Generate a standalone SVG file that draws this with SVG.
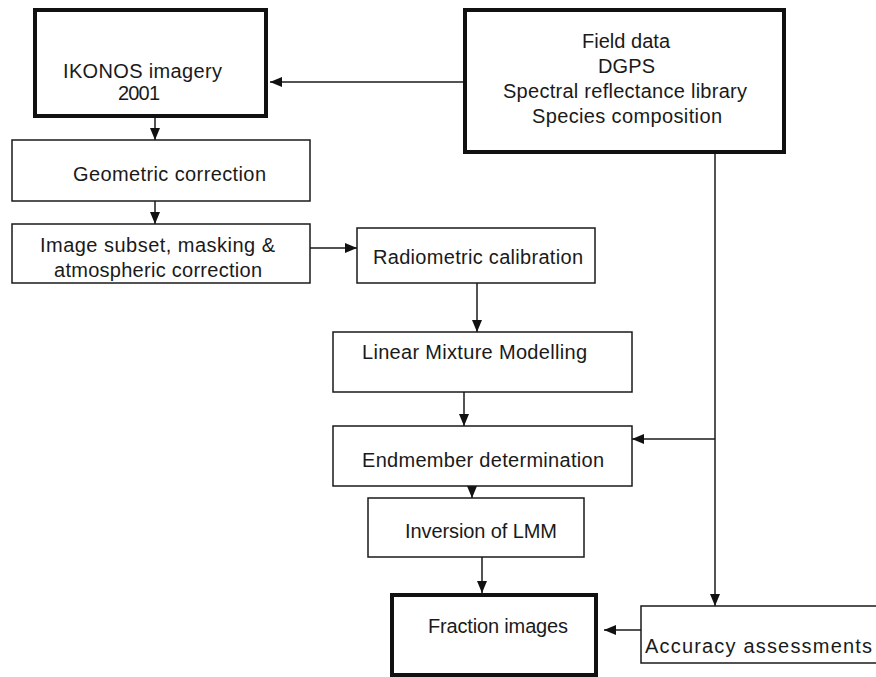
<svg xmlns="http://www.w3.org/2000/svg" width="876" height="677" viewBox="0 0 876 677">
<style>
.box{fill:#fff;stroke:#1a1a1a;stroke-width:1.5}
.thick{fill:#fff;stroke:#111;stroke-width:4}
.t{font-family:"Liberation Sans",Arial,sans-serif;font-size:20px;fill:#1a1a1a}
.ln{fill:none;stroke:#1a1a1a;stroke-width:1.5}
</style>
<defs>
<marker id="ah" markerUnits="userSpaceOnUse" markerWidth="12" markerHeight="12" viewBox="0 0 12 12" refX="12" refY="6" orient="auto">
<path d="M0,1 L12,6 L0,11 Z" fill="#111"/>
</marker>
</defs>
<rect width="876" height="677" fill="#fff"/>
<g id="connectors">
<line class="ln" x1="463" y1="82" x2="270" y2="82" marker-end="url(#ah)"/>
<line class="ln" x1="155" y1="118" x2="155" y2="140" marker-end="url(#ah)"/>
<line class="ln" x1="155" y1="201" x2="155" y2="224" marker-end="url(#ah)"/>
<line class="ln" x1="310" y1="248" x2="357" y2="248" marker-end="url(#ah)"/>
<line class="ln" x1="477" y1="283" x2="477" y2="332" marker-end="url(#ah)"/>
<line class="ln" x1="464" y1="392" x2="464" y2="426" marker-end="url(#ah)"/>
<line class="ln" x1="715" y1="153" x2="715" y2="606" marker-end="url(#ah)"/>
<line class="ln" x1="715" y1="439" x2="632" y2="439" marker-end="url(#ah)"/>
<line class="ln" x1="472" y1="486" x2="472" y2="498" marker-end="url(#ah)"/>
<line class="ln" x1="482" y1="557" x2="482" y2="593" marker-end="url(#ah)"/>
<line class="ln" x1="641" y1="630" x2="604" y2="630" marker-end="url(#ah)"/>
</g>
<g id="ikonos">
<rect class="thick" x="35" y="10" width="231" height="106"/>
<text class="t" x="63" y="78" textLength="159" lengthAdjust="spacing">IKONOS imagery</text>
<text class="t" x="118" y="100" textLength="42" lengthAdjust="spacing">2001</text>
</g>
<g id="field">
<rect class="thick" x="465" y="10" width="319" height="142"/>
<text class="t" x="582" y="48" textLength="88" lengthAdjust="spacing">Field data</text>
<text class="t" x="598" y="73" textLength="57" lengthAdjust="spacing">DGPS</text>
<text class="t" x="503" y="98" textLength="244" lengthAdjust="spacing">Spectral reflectance library</text>
<text class="t" x="532" y="123" textLength="190" lengthAdjust="spacing">Species composition</text>
</g>
<g id="geometric">
<rect class="box" x="12" y="140" width="298" height="61"/>
<text class="t" x="73" y="181" textLength="193" lengthAdjust="spacing">Geometric correction</text>
</g>
<g id="subset">
<rect class="box" x="12" y="224" width="298" height="59"/>
<text class="t" x="40" y="252" textLength="235" lengthAdjust="spacing">Image subset, masking &amp;</text>
<text class="t" x="54" y="277" textLength="208" lengthAdjust="spacing">atmospheric correction</text>
</g>
<g id="radiometric">
<rect class="box" x="357" y="228" width="238" height="55"/>
<text class="t" x="373" y="264" textLength="210" lengthAdjust="spacing">Radiometric calibration</text>
</g>
<g id="lmm">
<rect class="box" x="333" y="332" width="299" height="60"/>
<text class="t" x="362" y="359" textLength="225" lengthAdjust="spacing">Linear Mixture Modelling</text>
</g>
<g id="endmember">
<rect class="box" x="333" y="426" width="299" height="60"/>
<text class="t" x="362" y="467" textLength="242" lengthAdjust="spacing">Endmember determination</text>
</g>
<g id="inversion">
<rect class="box" x="368" y="498" width="216" height="59"/>
<text class="t" x="405" y="538" textLength="152" lengthAdjust="spacing">Inversion of LMM</text>
</g>
<g id="fraction">
<rect class="thick" x="392" y="595" width="204" height="80"/>
<text class="t" x="428" y="633" textLength="140" lengthAdjust="spacing">Fraction images</text>
</g>
<g id="accuracy">
<rect class="box" x="641" y="606" width="240" height="57"/>
<text class="t" x="645" y="653" textLength="227" lengthAdjust="spacing">Accuracy assessments</text>
</g>
</svg>
